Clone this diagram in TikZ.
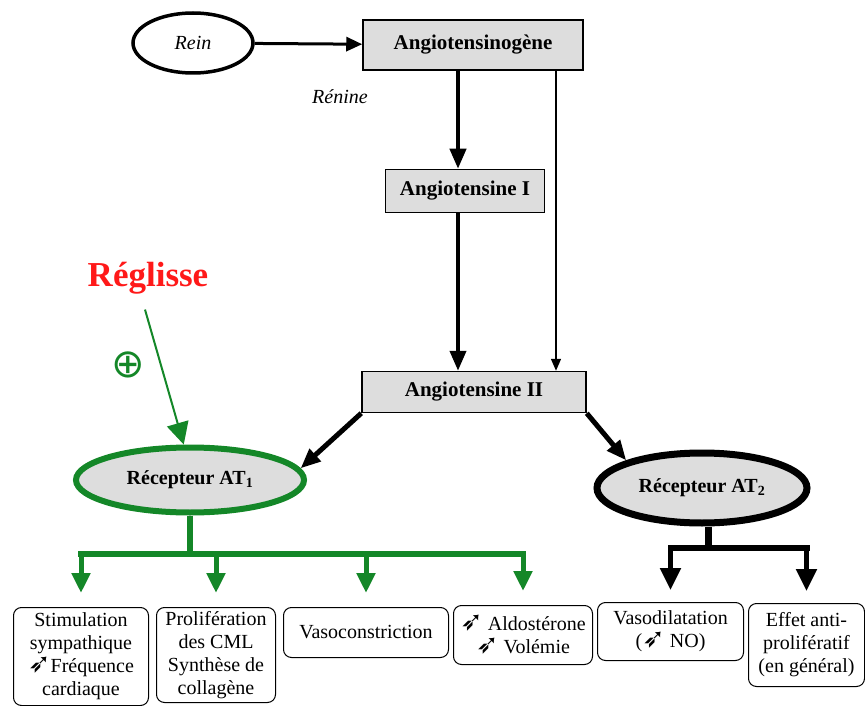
\documentclass[tikz,border=0pt]{standalone}
\usepackage{fontspec}
\setmainfont{Liberation Serif}
\newfontfamily\symfont{DejaVu Sans}
\usetikzlibrary{arrows.meta,shapes.geometric}
\definecolor{glgreen}{RGB}{20,135,40}
\definecolor{boxgray}{RGB}{221,221,221}
\definecolor{regred}{RGB}{255,25,25}
\newcommand{\hausse}{{\symfont\fontsize{27}{23}\selectfont ➶}}

\begin{document}
\begin{tikzpicture}[x=1pt,y=-1pt,
    titre/.style={draw, fill=boxgray, line width=1.5pt, inner sep=0pt,
        font=\fontsize{21}{24}\selectfont\bfseries},
    recept/.style={ellipse, draw, fill=boxgray, line width=6pt, inner sep=0pt,
        font=\fontsize{20}{24}\selectfont\bfseries},
    effet/.style={draw, rounded corners=8pt, line width=1pt, anchor=north west,
        align=center, inner sep=0pt, font=\fontsize{20}{23}\selectfont},
    grosse/.style={-{Triangle[length=20pt,width=16pt]}, line width=4pt},
    mince/.style={-{Triangle[length=12pt,width=10pt]}, line width=1.5pt},
    vert/.style={glgreen, -{Triangle[length=20pt,width=18pt]}, line width=5pt},
    noir/.style={-{Triangle[length=22pt,width=20pt]}, line width=5pt}]
        \useasboundingbox (0,0) rectangle (865,706);

        % cascade du haut
        \node[ellipse, draw, line width=3.5pt, minimum width=120pt, minimum height=60pt,
            font=\fontsize{20}{24}\selectfont\itshape] (rein) at (193,43) {Rein};
        \node[titre, minimum width=220pt, minimum height=50pt] (ango) at (473,45) {Angiotensinogène};
        \node[font=\fontsize{20}{24}\selectfont\itshape] (renine) at (340,97) {Rénine};
        \node[titre, minimum width=159pt, minimum height=43pt] (ang1) at (465,191) {Angiotensine I};
        \node[titre, minimum width=224pt, minimum height=41pt] (ang2) at (474,392) {Angiotensine II};

        \draw[-{Triangle[length=16pt,width=14pt]}, line width=3pt] (rein) -- (ango);
        \draw[grosse] ([xshift=-15pt]ango.south) -- ([xshift=-7pt]ang1.north);
        \draw[grosse] ([xshift=-7pt]ang1.south) -- ([xshift=-16pt]ang2.north);
        \draw[mince] ([xshift=83pt]ango.south) -- ([xshift=82pt]ang2.north);

        % recepteurs
        \node[recept, draw=glgreen, minimum width=228pt, minimum height=65pt] (at1) at (190,480)
            {Récepteur AT$_{\mathbf{1}}$};
        \node[recept, line width=7pt, minimum width=210pt, minimum height=70pt] (at2) at (702,488)
            {Récepteur AT$_{\mathbf{2}}$};
        \draw[grosse, line width=5pt] (ang2.south west) -- (at1.6);
        \draw[grosse, line width=5pt] (ang2.south east) -- (at2.160);

        % reglisse
        \node[text=regred, font=\fontsize{35}{38}\selectfont\bfseries] (regl) at (148,278) {Réglisse};
        \node[text=glgreen, font=\symfont\fontsize{40}{42}\selectfont] (plus) at (128,365) {⊕};
        \draw[glgreen, -{Triangle[length=22pt,width=22pt]}, line width=2pt]
            ([xshift=-3pt,yshift=-12pt]regl.south) -- (at1.100);

        % effets
        \node[effet, minimum width=135pt, minimum height=98pt] (stim) at (13,607)
            {Stimulation\\sympathique\\\hausse Fréquence\\cardiaque};
        \node[effet, minimum width=119pt, minimum height=95pt] (prol) at (156,607)
            {Prolifération\\des CML\\Synthèse de\\collagène};
        \node[effet, minimum width=165pt, minimum height=50pt] (vaso) at (283,607)
            {Vasoconstriction};
        \node[effet, minimum width=139pt, minimum height=59pt] (aldo) at (453,605)
            {\hausse\ Aldostérone\\\hausse\ Volémie};
        \node[effet, minimum width=146pt, minimum height=58pt] (dila) at (597,602)
            {Vasodilatation\\(\hausse\ NO)};
        \node[effet, minimum width=116pt, minimum height=83pt] (anti) at (748,603)
            {Effet anti-\\prolifératif\\(en général)};

        % fourches
        \coordinate (f1) at (190,554);
        \coordinate (f2) at (708,548);
        \draw[glgreen, line width=6pt] (f1 |- at1.south) -- (f1);
        \draw[glgreen, line width=6pt, line cap=rect] (stim.north |- f1) -- (aldo.north |- f1);
        \foreach \b in {stim,prol,vaso,aldo}
        \draw[vert] (\b.north |- f1) -- ([yshift=14pt]\b.north);

        \draw[line width=7pt] (f2 |- at2.south) -- (f2);
        \draw[line width=6pt, line cap=rect] (dila.north |- f2) -- (anti.north |- f2);
        \foreach \b in {dila,anti}
        \draw[noir] (\b.north |- f2) -- ([yshift=12pt]\b.north);
\end{tikzpicture}
\end{document}
